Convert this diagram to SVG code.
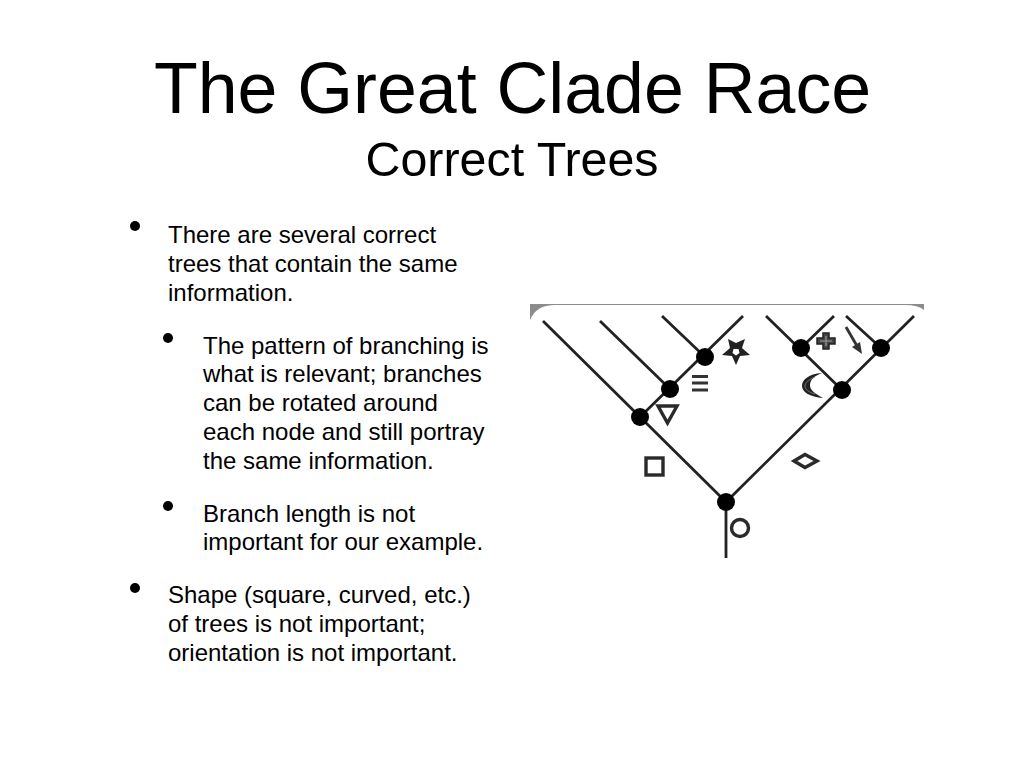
<svg xmlns="http://www.w3.org/2000/svg" width="1024" height="768" viewBox="0 0 1024 768">
<style>
text{font-family:"Liberation Sans",Arial,sans-serif;fill:#000}
.t{font-size:71.700px;text-anchor:middle}
.s{font-size:48.400px;text-anchor:middle}
.b{font-size:24px}
.d{fill:#000}
.e{stroke:#222;stroke-width:2.800;fill:none}
.y{fill:none;stroke:#2a2a2a;stroke-width:3.400}
</style>
<rect width="1024" height="768" fill="#fff"/>
<g id="title"><text class="t" x="512.500" y="113">The Great Clade Race</text><text class="s" x="512" y="176">Correct Trees</text></g>
<g id="bullets">
<circle class="d" cx="135" cy="226" r="5"/><circle class="d" cx="168" cy="338" r="5"/><circle class="d" cx="168" cy="506" r="5"/><circle class="d" cx="135" cy="588" r="5"/>
<text class="b" x="168" y="243">There are several correct</text>
<text class="b" x="168" y="272">trees that contain the same</text>
<text class="b" x="168" y="301">information.</text>
<text class="b" x="203" y="354">The pattern of branching is</text>
<text class="b" x="203" y="382">what is relevant; branches</text>
<text class="b" x="203" y="411">can be rotated around</text>
<text class="b" x="203" y="440">each node and still portray</text>
<text class="b" x="203" y="469">the same information.</text>
<text class="b" x="203" y="522">Branch length is not</text>
<text class="b" x="203" y="550">important for our example.</text>
<text class="b" x="168" y="603">Shape (square, curved, etc.)</text>
<text class="b" x="168" y="632">of trees is not important;</text>
<text class="b" x="168" y="661">orientation is not important.</text>
</g>
<g id="frame">
<path d="M530 304H924V310Q918 305 905 305H555Q536 305 530 320Z" fill="#8c8c8c"/>
</g>
<g id="connectors">
<path class="e" d="M543 321L726 502M600 321L670 389M662 316L705 357M640 417L743 316M726 502L914 316M766 316L842 390M801 348L834 316M846 316L881 348M726 502V558"/>
</g>
<g id="node-1"><circle class="d" cx="640" cy="417" r="9"/></g>
<g id="node-2"><circle class="d" cx="670" cy="389" r="9"/></g>
<g id="node-3"><circle class="d" cx="705" cy="357" r="9"/></g>
<g id="node-4"><circle class="d" cx="801" cy="348" r="9"/></g>
<g id="node-5"><circle class="d" cx="881" cy="348" r="9"/></g>
<g id="node-6"><circle class="d" cx="842" cy="390" r="9"/></g>
<g id="node-7"><circle class="d" cx="726" cy="502" r="9"/></g>
<g id="symbols">
<path id="star" fill-rule="evenodd" d="M736 365L732 356L722 355L730 348L728 339L736 343L745 339L742 348L750 355L740 356ZM736 355.500L739.500 353L738.500 349L733.500 349L732.500 353Z" fill="#222"/>
<path id="lines" d="M692 376.500H708M692 383H708M692 390H708" fill="none" stroke="#333" stroke-width="3"/>
<path id="triangle" class="y" d="M658 406H677L667.500 423Z"/>
<rect id="square" class="y" x="646" y="458" width="17" height="17"/>
<path id="diamond" class="y" d="M794 461L805 454.500L817 461L805 467.500Z"/>
<circle id="circle" class="y" cx="740" cy="528" r="8.500"/>
<path id="plus" d="M823 333H829V338H835V344H829V349H823V344H817V338H823Z" fill="#444" stroke="#222" stroke-width="1.500"/>
<path id="plus-core" d="M826 336V346M820 341H832" stroke="#999" stroke-width="1.200" fill="none"/>
<path id="arrow" d="M846 327L857 346" stroke="#333" stroke-width="2.800" fill="none"/>
<path id="arrowhead" d="M862 354L852 347L860 342Z" fill="#333"/>
<path id="moon" d="M822 373C808 374 802 380 802 386C802 392 810 397 823 398C814 393 810 390 810 385C810 380 814 376 822 373Z" fill="#222"/>
<path id="moon-core" d="M815 377C808 380 805 383 805 386C805 389 808 392 815 394" stroke="#888" stroke-width="0.800" fill="none"/>
</g>
</svg>
